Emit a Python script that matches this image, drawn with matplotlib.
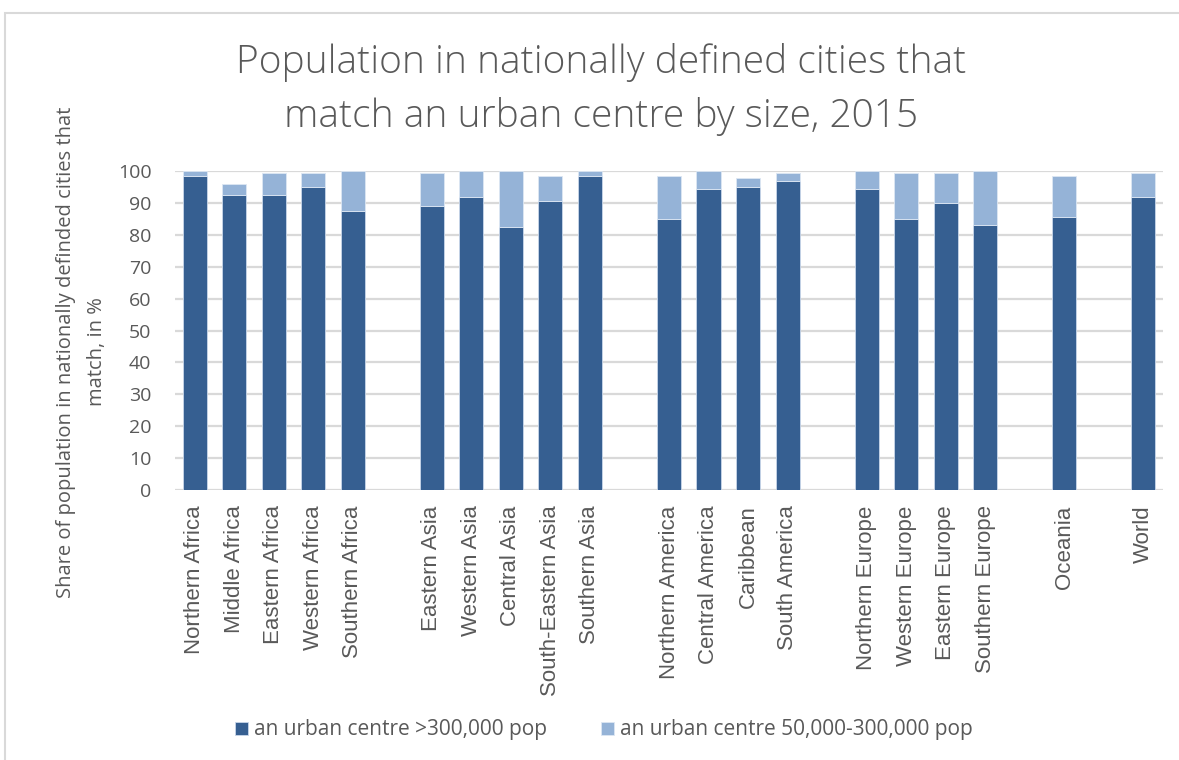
import numpy as np
import matplotlib.pyplot as plt
from matplotlib.patches import Rectangle

# regional groups (share in %, 2015)
africa = ['Northern Africa', 'Middle Africa', 'Eastern Africa', 'Western Africa', 'Southern Africa']
asia = ['Eastern Asia', 'Western Asia', 'Central Asia', 'South-Eastern Asia', 'Southern Asia']
americas = ['Northern America', 'Central America', 'Caribbean', 'South America']
europe = ['Northern Europe', 'Western Europe', 'Eastern Europe', 'Southern Europe']
oceania = ['Oceania']
world = ['World']

big_africa = [98.4, 92.6, 92.6, 95.1, 87.5]
big_asia = [89.1, 91.7, 82.3, 90.7, 98.5]
big_americas = [84.9, 94.3, 95.1, 96.8]
big_europe = [94.3, 84.9, 90.0, 83.1]
big_oceania = [85.6]
big_world = [91.7]

small_africa = [1.6, 3.4, 6.8, 4.3, 12.5]
small_asia = [10.3, 8.3, 17.7, 7.8, 1.5]
small_americas = [13.6, 5.7, 2.6, 2.6]
small_europe = [5.7, 14.5, 9.4, 16.9]
small_oceania = [12.9]
small_world = [7.7]

groups = [africa, asia, americas, europe, oceania, world]
big = big_africa + big_asia + big_americas + big_europe + big_oceania + big_world
small = small_africa + small_asia + small_americas + small_europe + small_oceania + small_world
labels = [r for g in groups for r in g]

# one empty slot between groups, like the blank categories in the original
pos = []
p = 0
for g in groups:
    for r in g:
        pos.append(p)
        p += 1
    p += 1
pos = np.array(pos)

dark = '#365f91'
light = '#95b3d7'
txt = '#595959'

fig = plt.figure(figsize=(11.79, 7.6), dpi=100)
ax = fig.add_axes([175/1179, 1 - 490/760, (1163 - 175)/1179, (490 - 171)/760])

ax.bar(pos, big, width=0.61, color=dark, edgecolor='#c9d7ea', linewidth=0.6, zorder=3,
       label='an urban centre >300,000 pop')
ax.bar(pos, small, bottom=big, width=0.61, color=light, edgecolor='#dde7f3', linewidth=0.6, zorder=3,
       label='an urban centre 50,000-300,000 pop')

ax.set_xlim(-0.5, p - 1.5)
ax.set_ylim(0, 100)
ax.set_yticks(range(0, 101, 10))
ax.yaxis.grid(True, color='#d9d9d9', linewidth=1.6, zorder=0)
ax.set_axisbelow(True)
for s in ax.spines.values():
    s.set_visible(False)
ax.tick_params(length=0)
ax.tick_params(axis='y', labelsize=14, labelcolor=txt, pad=17)
ax.set_yticklabels([str(v) for v in range(0, 101, 10)], fontfamily='Open Sans')
ax.set_xticks(pos)
ax.set_xticklabels(labels, rotation=90, fontsize=16, color=txt, fontfamily='Liberation Sans')
ax.tick_params(axis='x', pad=11)

ax.set_ylabel('Share of population in nationally definded cities that\nmatch, in %',
              fontsize=14.5, color=txt, fontfamily='Open Sans', linespacing=1.7)
ax.yaxis.set_label_coords(-68/988, (490 - 352)/319)

fig.text(601/1179, 1 - 62/760, 'Population in nationally defined cities that',
         ha='center', va='center', fontsize=28, color=txt, fontfamily='Open Sans', fontweight='light')
fig.text(601/1179, 1 - 117/760, 'match an urban centre by size, 2015',
         ha='center', va='center', fontsize=28, color=txt, fontfamily='Open Sans', fontweight='light')

fig.legend(loc='center', bbox_to_anchor=(604/1179, 1 - 730/760), ncol=2, frameon=False,
           prop={'family': 'Open Sans', 'size': 15}, handlelength=0.6, handleheight=0.6,
           handletextpad=0.3, columnspacing=2.6, labelcolor=txt)

# outer chart border (cropped at right and bottom)
fig.add_artist(Rectangle((5/1179, -0.1), 1.2, (760 - 13)/760 + 0.1, transform=fig.transFigure,
                         fill=False, edgecolor='#d9d9d9', linewidth=1.5))

fig.savefig('out.png', dpi=100)
